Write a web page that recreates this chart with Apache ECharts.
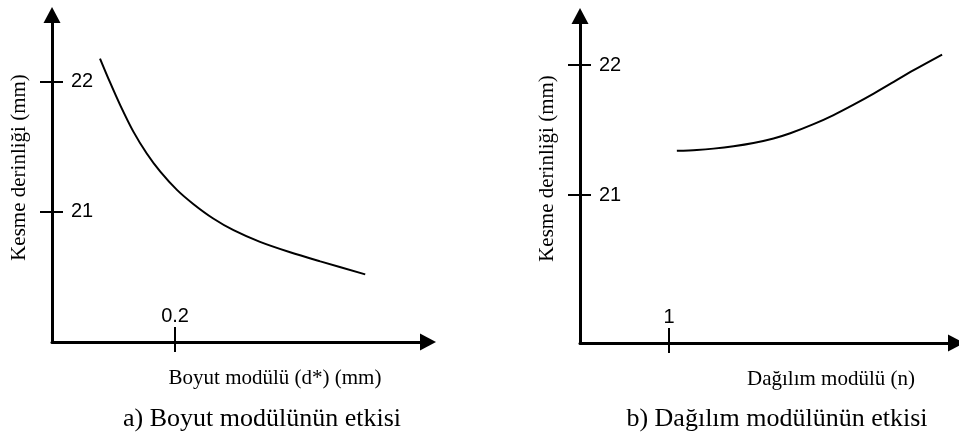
<!DOCTYPE html>
<html>
<head>
<meta charset="utf-8">
<script src="https://cdn.jsdelivr.net/npm/echarts@6/dist/echarts.min.js"></script>
<style>html,body{margin:0;padding:0;background:#fff}#c{width:959px;height:434px}</style>
</head>
<body>
<div id="c"></div>
<script>
// ---- data ----
const boyutX = [0.078, 0.094, 0.111, 0.132, 0.154, 0.176, 0.203, 0.230, 0.262, 0.295, 0.338, 0.387, 0.436, 0.509];
const boyutY = [22.18, 22.00, 21.82, 21.62, 21.45, 21.31, 21.17, 21.06, 20.95, 20.86, 20.77, 20.69, 20.62, 20.52];
const dagilimX = [1.087, 1.311, 1.498, 1.723, 1.947, 2.172, 2.360, 2.621, 2.846, 3.071, 3.296, 3.521, 3.745, 4.064];
const dagilimY = [21.34, 21.347, 21.357, 21.375, 21.40, 21.435, 21.475, 21.545, 21.615, 21.695, 21.78, 21.87, 21.96, 22.08];
const yTicks = [21, 22];
const xTicksA = [0.2];
const xTicksB = [1];
const yName = 'Kesme derinliği (mm)';
const xNameA = 'Boyut modülü (d*) (mm)';
const xNameB = 'Dağılım modülü (n)';
const captionA = 'a) Boyut modülünün etkisi';
const captionB = 'b) Dağılım modülünün etkisi';

const chart = echarts.init(document.getElementById('c'), null, {renderer: 'canvas'});
const serif = 'Liberation Serif';
const sans = 'Liberation Sans';
const K = '#000';

const gA = {left: 52, top: 15, width: 376, height: 327};
const gB = {left: 580, top: 16, width: 376, height: 327};
const rangeA = {xmin: 0, xmax: 0.611, ymin: 20, ymax: 22.515};
const rangeB = {xmin: 0, xmax: 4.22, ymin: 19.862, ymax: 22.377};

function mainX(grid, r, ticks, name, shift) {
  return {
    type: 'value', gridIndex: grid, min: r.xmin, max: r.xmax, position: 'bottom',
    axisLine: {show: true, lineStyle: {color: K, width: 3}, symbol: ['none', 'triangle'], symbolSize: [17, 16]},
    axisTick: {show: true, inside: false, length: 10, lineStyle: {color: K, width: 2}, customValues: ticks},
    axisLabel: {show: true, inside: true, margin: 16, color: K, fontFamily: sans, fontSize: 20, customValues: ticks},
    splitLine: {show: false},
    name: name, nameLocation: 'middle', nameGap: 26,
    nameTextStyle: {color: K, fontFamily: serif, fontSize: 21, padding: [0, 0, 0, shift]}
  };
}
function mainY(grid, r, shift) {
  return {
    type: 'value', gridIndex: grid, min: r.ymin, max: r.ymax, position: 'left',
    axisLine: {show: true, lineStyle: {color: K, width: 3}, symbol: ['none', 'triangle'], symbolSize: [17, 16]},
    axisTick: {show: true, inside: false, length: 12, lineStyle: {color: K, width: 2}, customValues: yTicks},
    axisLabel: {show: true, inside: true, margin: 19, color: K, fontFamily: sans, fontSize: 20, customValues: yTicks},
    splitLine: {show: false},
    name: yName, nameLocation: 'middle', nameGap: 22, nameRotate: 90,
    nameTextStyle: {color: K, fontFamily: serif, fontSize: 21, padding: [0, 0, 0, shift]}
  };
}
function innerX(grid, r, ticks) {
  return {
    type: 'value', gridIndex: grid, min: r.xmin, max: r.xmax, position: 'bottom',
    axisLine: {show: false}, axisLabel: {show: false}, splitLine: {show: false},
    axisTick: {show: true, inside: true, length: 15, lineStyle: {color: K, width: 2}, customValues: ticks}
  };
}
function innerY(grid, r) {
  return {
    type: 'value', gridIndex: grid, min: r.ymin, max: r.ymax, position: 'left',
    axisLine: {show: false}, axisLabel: {show: false}, splitLine: {show: false},
    axisTick: {show: true, inside: true, length: 11, lineStyle: {color: K, width: 2}, customValues: yTicks}
  };
}
function grid(g) {
  return Object.assign({containLabel: false, outerBoundsMode: 'none'}, g);
}

const option = {
  backgroundColor: '#fff',
  animation: false,
  title: [
    {text: captionA, left: 257, top: 401, textAlign: 'center', textStyle: {color: K, fontFamily: serif, fontSize: 26, fontWeight: 'normal'}},
    {text: captionB, left: 772, top: 401, textAlign: 'center', textStyle: {color: K, fontFamily: serif, fontSize: 26, fontWeight: 'normal'}}
  ],
  grid: [grid(gA), grid(gA), grid(gB), grid(gB)],
  xAxis: [
    mainX(0, rangeA, xTicksA, xNameA, 70),
    innerX(1, rangeA, xTicksA),
    mainX(2, rangeB, xTicksB, xNameB, 126),
    innerX(3, rangeB, xTicksB)
  ],
  yAxis: [
    mainY(0, rangeA, 22),
    innerY(1, rangeA),
    mainY(2, rangeB, 22),
    innerY(3, rangeB)
  ],
  series: [
    {type: 'line', xAxisIndex: 0, yAxisIndex: 0, smooth: 0.3, showSymbol: false,
     lineStyle: {color: K, width: 2}, data: boyutX.map((x, i) => [x, boyutY[i]])},
    {type: 'line', xAxisIndex: 2, yAxisIndex: 2, smooth: 0.3, showSymbol: false,
     lineStyle: {color: K, width: 2}, data: dagilimX.map((x, i) => [x, dagilimY[i]])}
  ]
};
chart.setOption(option);
</script>
</body>
</html>
